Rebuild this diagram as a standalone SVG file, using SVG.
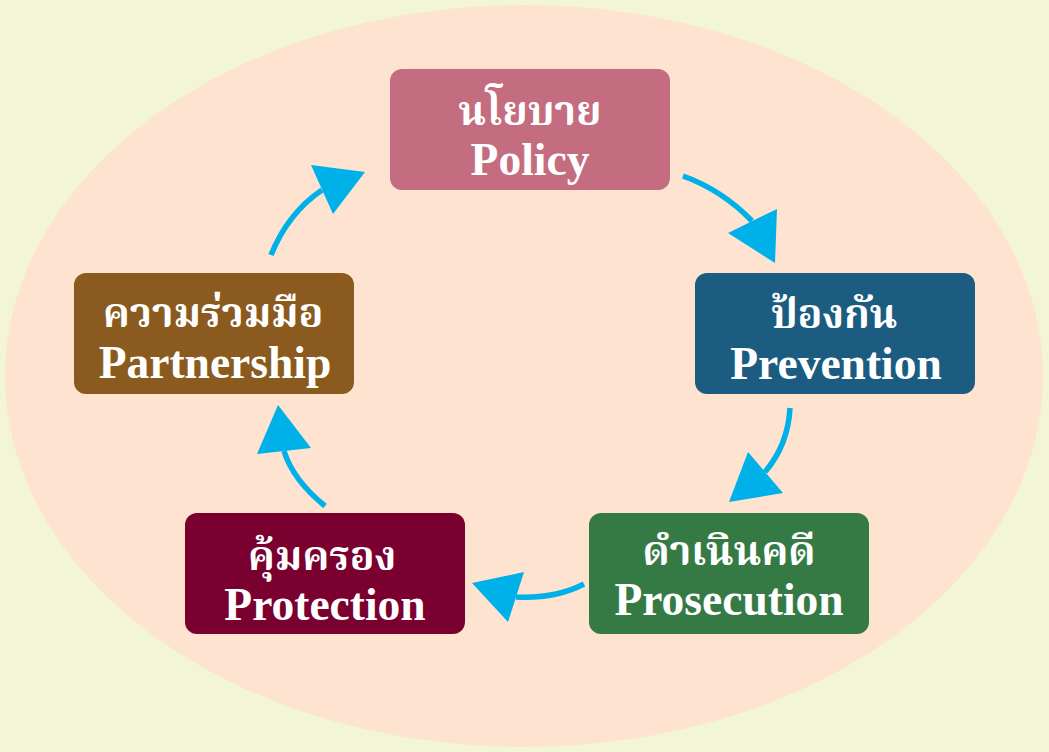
<svg xmlns="http://www.w3.org/2000/svg" width="1049" height="752" viewBox="0 0 1049 752">
<style>
.t{font-family:"Liberation Serif","Noto Serif Thai","Noto Sans Thai","Tlwg Typo",serif;font-weight:bold;font-size:45.5px;fill:#fff;text-anchor:middle}
.th{font-size:41px}
.c{fill:none;stroke:#00B0E8;stroke-width:5.5}
.h{fill:#00B0E8}
</style>
<rect width="1049" height="752" fill="#F2F5D6"/>
<ellipse cx="524" cy="376" rx="519" ry="371" fill="#FDE3D0"/>
<g id="policy"><rect x="390" y="69" width="280" height="121" rx="12" fill="#C46C80"/><text class="t th" x="530" y="125">นโยบาย</text><text class="t" x="530" y="175">Policy</text></g>
<g id="prevention"><rect x="695" y="273" width="280" height="121" rx="12" fill="#1B5C80"/><text class="t th" x="834" y="328">ป้องกัน</text><text class="t" x="836" y="379">Prevention</text></g>
<g id="prosecution"><rect x="589" y="513" width="280" height="121" rx="12" fill="#357A45"/><text class="t th" x="729" y="565">ดำเนินคดี</text><text class="t" x="729" y="615">Prosecution</text></g>
<g id="protection"><rect x="185" y="513" width="280" height="121" rx="12" fill="#7A0030"/><text class="t th" x="322" y="570">คุ้มครอง</text><text class="t" x="325" y="620">Protection</text></g>
<g id="partnership"><rect x="74" y="273" width="280" height="121" rx="12" fill="#8B5A1E"/><text class="t th" x="213" y="327">ความร่วมมือ</text><text class="t" x="215" y="378">Partnership</text></g>
<g id="connectors">
<path class="c" d="M683,176 Q722,190 752,221"/><polygon class="h" points="728,233 777,209 775,263"/>
<path class="c" d="M790,408 Q788,445 765,472"/><polygon class="h" points="748,452 783,493 729,502"/>
<path class="c" d="M584,584 Q555,599 516,597"/><polygon class="h" points="524,572 508,622 472,583"/>
<path class="c" d="M325,506 Q293,480 284,451"/><polygon class="h" points="257,454 311,448 278,405"/>
<path class="c" d="M271,255 Q288,213 322,190"/><polygon class="h" points="311,165 333,214 365,172"/>
</g>
</svg>
